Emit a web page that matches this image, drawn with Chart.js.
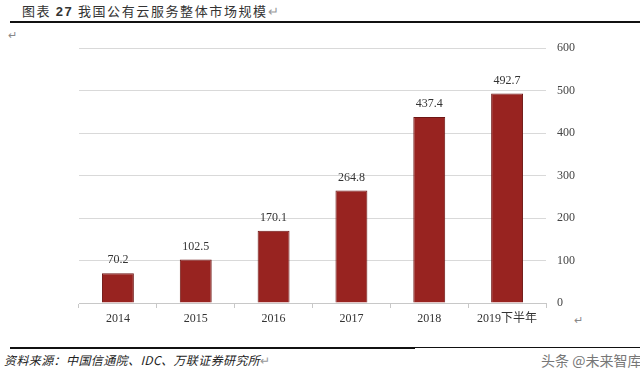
<!DOCTYPE html>
<html>
<head>
<meta charset="utf-8">
<script src="https://cdn.jsdelivr.net/npm/chart.js@4"></script>
<style>
  body { margin: 0; background: #fff; }
  #wrap { position: relative; width: 640px; height: 375px; overflow: hidden; }
  canvas { position: absolute; left: 0; top: 0; }
  .txt { position: absolute; white-space: nowrap; font-family: "Noto Sans CJK SC", sans-serif; }
  .rule { position: absolute; height: 2px; background: #111; }
</style>
</head>
<body>
<div id="wrap">
  <div class="txt" style="left:22px;top:1px;font-size:13px;color:#333;letter-spacing:1.6px;">图表 <b style="font-family:'Liberation Sans';">27</b> 我国公有云服务整体市场规模<span style="color:#999;">↵</span></div>
  <div class="rule" style="left:10px;top:21px;width:630px;"></div>
  <div class="txt" style="left:8px;top:26px;font-size:11px;color:#888;">↵</div>
  <div class="txt" style="left:574px;top:311px;font-size:11px;color:#888;">↵</div>
  <div class="rule" style="left:10px;top:347px;width:405px;"></div>
  <div class="rule" style="left:415px;top:347px;width:225px;height:1px;"></div>
  <div class="txt" style="left:4px;top:351px;font-size:12px;color:#222;font-style:italic;letter-spacing:0.4px;">资料来源：中国信通院、IDC、万联证券研究所<span style="color:#999;font-style:normal;">↵</span></div>
  <div class="txt" style="left:541px;top:350px;font-size:14px;color:#777;">头条 @未来智库</div>
  <canvas id="chart" width="640" height="375"></canvas>
</div>
<script>
// 市场规模（亿元）
const categories = ['2014', '2015', '2016', '2017', '2018', '2019下半年'];
const marketSize = [70.2, 102.5, 170.1, 264.8, 437.4, 492.7];
const yTicks = [0, 100, 200, 300, 400, 500, 600];

// draws the value above each bar
const valueLabels = {
  id: 'valueLabels',
  afterDatasetsDraw(chart) {
    const ctx = chart.ctx;
    const meta = chart.getDatasetMeta(0);
    ctx.save();
    ctx.font = '12px "Liberation Serif", serif';
    ctx.fillStyle = '#333';
    ctx.textAlign = 'center';
    ctx.textBaseline = 'bottom';
    meta.data.forEach((bar, i) => {
      ctx.fillText(marketSize[i].toFixed(1), bar.x, bar.y - 7);
    });
    ctx.restore();
  }
};

new Chart(document.getElementById('chart'), {
  type: 'bar',
  data: {
    labels: categories,
    datasets: [{
      data: marketSize,
      backgroundColor: '#982320',
      borderColor: '#6e1614',
      borderWidth: 1,
      categoryPercentage: 1,
      barPercentage: 0.41,
    }],
  },
  options: {
    responsive: false,
    animation: false,
    layout: { padding: { left: 79, top: 48, right: 0, bottom: 0 } },
    plugins: { legend: { display: false }, tooltip: { enabled: false } },
    scales: {
      x: {
        grid: { drawOnChartArea: false, tickLength: 5, color: '#c8c8c8' },
        border: { color: '#c8c8c8' },
        ticks: {
          color: '#333',
          padding: 4,
          font: { family: '"Liberation Serif", "Noto Sans CJK SC", serif', size: 12 },
        },
        afterFit(scale) { scale.height = 72; },
      },
      y: {
        position: 'right',
        min: 0,
        max: 600,
        afterBuildTicks(scale) { scale.ticks = yTicks.map(v => ({ value: v })); },
        grid: { color: '#d9d9d9', drawTicks: false },
        border: { display: false },
        ticks: {
          color: '#444',
          padding: 11,
          font: { family: '"Liberation Serif", serif', size: 12 },
        },
        afterFit(scale) { scale.width = 94; },
      },
    },
  },
  plugins: [valueLabels],
});
</script>
</body>
</html>
